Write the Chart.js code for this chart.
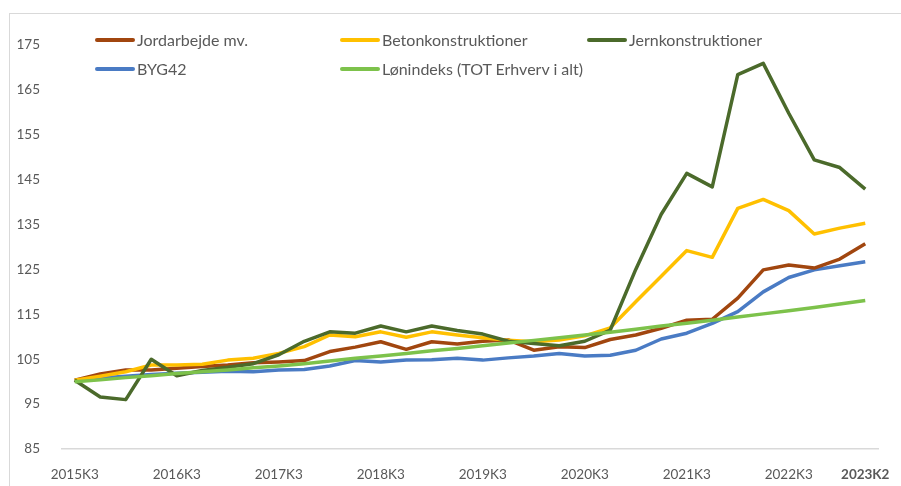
<!DOCTYPE html>
<html>
<head>
<meta charset="utf-8">
<script src="https://cdn.jsdelivr.net/npm/chart.js@4/dist/chart.umd.min.js"></script>
<style>
  html, body { margin: 0; padding: 0; background: #fff; }
  #wrap { position: relative; width: 901px; height: 486px; overflow: hidden; }
  #frame { position: absolute; left: 9px; top: 13px; width: 1000px; height: 1000px; border: 1px solid #d9d9d9; box-sizing: border-box; }
  canvas { position: absolute; left: 0; top: 0; }
  .legend { position: absolute; font-family: Lato, 'Open Sans', sans-serif; font-size: 16px; color: #595959; }
  .legend__item { position: absolute; white-space: nowrap; display: flex; align-items: center; }
  .legend__swatch { display: inline-block; width: 40px; height: 4px; border-radius: 2px; margin-right: 2px; }
</style>
</head>
<body>
<div id="wrap">
  <div id="frame"></div>
  <canvas id="chart" width="901" height="486"></canvas>
  <div class="legend" id="legend"></div>
</div>
<script>
const QUARTERS = [
  '2015K3','2015K4','2016K1','2016K2','2016K3','2016K4','2017K1','2017K2',
  '2017K3','2017K4','2018K1','2018K2','2018K3','2018K4','2019K1','2019K2',
  '2019K3','2019K4','2020K1','2020K2','2020K3','2020K4','2021K1','2021K2',
  '2021K3','2021K4','2022K1','2022K2','2022K3','2022K4','2023K1','2023K2'
];

const JORDARBEJDE = [100.3, 101.7, 102.6, 102.6, 103.0, 103.4, 103.7, 104.2,
  104.4, 104.7, 106.7, 107.7, 108.9, 107.2, 108.9, 108.4,
  109.0, 109.3, 107.0, 107.8, 107.6, 109.4, 110.4, 111.9,
  113.7, 113.9, 118.6, 124.9, 126.0, 125.3, 127.3, 130.7];

const BETON = [100.3, 101.2, 102.2, 103.7, 103.7, 103.9, 104.8, 105.2,
  106.3, 107.8, 110.4, 110.0, 111.1, 109.9, 111.1, 110.4,
  109.8, 109.2, 108.9, 109.3, 110.2, 112.0, 117.8, 123.5,
  129.2, 127.7, 138.6, 140.6, 138.1, 132.9, 134.2, 135.3];

const JERN = [100.3, 96.6, 96.0, 105.0, 101.3, 102.5, 103.2, 104.0,
  106.0, 109.0, 111.1, 110.8, 112.4, 111.1, 112.4, 111.4,
  110.6, 109.0, 108.5, 108.0, 109.0, 111.5, 125.0, 137.3,
  146.4, 143.4, 168.4, 170.9, 159.8, 149.4, 147.7, 142.9];

const BYG42 = [100.3, 100.8, 101.2, 101.6, 101.9, 102.1, 102.3, 102.2,
  102.6, 102.7, 103.5, 104.7, 104.4, 104.8, 104.9, 105.2,
  104.8, 105.3, 105.7, 106.3, 105.7, 105.9, 107.0, 109.5,
  110.8, 113.0, 115.6, 120.0, 123.2, 124.9, 125.8, 126.7];

const LOENINDEKS = [100.0, 100.4, 100.9, 101.3, 101.8, 102.2, 102.6, 103.1,
  103.5, 104.0, 104.6, 105.2, 105.7, 106.3, 106.9, 107.4,
  108.0, 108.6, 109.2, 109.8, 110.4, 111.0, 111.7, 112.4,
  113.0, 113.7, 114.4, 115.1, 115.8, 116.5, 117.3, 118.1];

const Y_MIN = 85;
const Y_MAX = 175;
const Y_STEP = 10;

const SERIES = [
  { label: 'Jordarbejde mv.', data: JORDARBEJDE, color: '#a1460f', order: 3, pos: [95, 41] },
  { label: 'Betonkonstruktioner', data: BETON, color: '#ffc000', order: 2, pos: [340, 41] },
  { label: 'Jernkonstruktioner', data: JERN, color: '#4b6a2b', order: 1, pos: [587, 41] },
  { label: 'BYG42', data: BYG42, color: '#4a7bc4', order: 4, pos: [95, 70] },
  { label: 'Lønindeks (TOT Erhverv i alt)', data: LOENINDEKS, color: '#7dc24b', order: 0, pos: [340, 70] },
];

// legend
const legendEl = document.getElementById('legend');
SERIES.forEach(s => {
  const item = document.createElement('div');
  item.className = 'legend__item';
  item.style.left = s.pos[0] + 'px';
  item.style.top = (s.pos[1] - 11) + 'px';
  item.innerHTML = `<span class="legend__swatch" style="background:${s.color}"></span>${s.label}`;
  legendEl.appendChild(item);
});

const tickFont = { family: "Lato, 'Open Sans', sans-serif", size: 13.5 };

new Chart(document.getElementById('chart').getContext('2d'), {
  type: 'line',
  data: {
    labels: QUARTERS,
    datasets: SERIES.map(s => ({
      label: s.label,
      data: s.data,
      borderColor: s.color,
      backgroundColor: s.color,
      borderWidth: 3.5,
      pointRadius: 0,
      tension: 0,
      order: s.order,
      borderJoinStyle: 'round',
    })),
  },
  options: {
    responsive: false,
    animation: false,
    layout: { padding: { top: 45, right: 23, bottom: 0, left: 0 } },
    plugins: { legend: { display: false }, tooltip: { enabled: false } },
    scales: {
      x: {
        offset: true,
        grid: { display: false },
        border: { display: true, color: '#d9d9d9', width: 1.5 },
        afterFit: scale => { scale.height = 37; },
        ticks: {
          autoSkip: false,
          maxRotation: 0,
          padding: 10,
          color: '#595959',
          font: ctx => ctx.index === QUARTERS.length - 1
            ? { ...tickFont, weight: 'bold' }
            : tickFont,
          callback: (v, i) => (i % 4 === 0 || i === QUARTERS.length - 1) ? QUARTERS[i] : '',
        },
      },
      y: {
        min: Y_MIN,
        max: Y_MAX,
        grid: { display: false },
        border: { display: false },
        afterFit: scale => { scale.width = 62; },
        ticks: {
          stepSize: Y_STEP,
          padding: 14,
          color: '#595959',
          font: tickFont,
        },
      },
    },
  },
});
</script>
</body>
</html>
